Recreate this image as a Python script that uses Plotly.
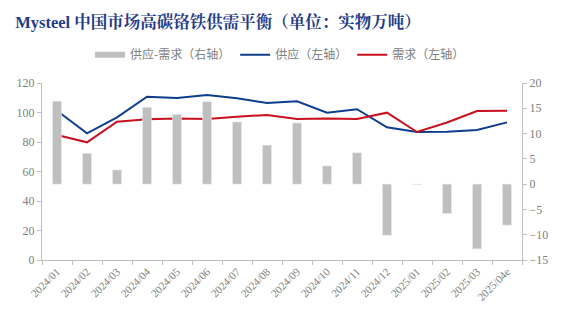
import plotly.graph_objects as go

categories = ["2024/01", "2024/02", "2024/03", "2024/04", "2024/05", "2024/06", "2024/07", "2024/08",
              "2024/09", "2024/10", "2024/11", "2024/12", "2025/01", "2025/02", "2025/03", "2025/04e"]
supply = [101.2, 85.9, 96.7, 110.7, 109.8, 111.9, 109.6, 106.4, 107.6, 99.9, 102.2, 90.0, 86.8, 87.0, 88.1, 93.3]
demand = [84.7, 79.8, 93.8, 95.4, 96.0, 95.6, 97.2, 98.3, 95.6, 96.0, 95.6, 99.9, 86.8, 93.2, 101.0, 101.2]
balance = [16.4, 6.1, 2.8, 15.2, 13.8, 16.3, 12.3, 7.7, 12.1, 3.6, 6.2, -10.1, -0.1, -5.8, -12.8, -8.1]

left_ticks = [0, 20, 40, 60, 80, 100, 120]
right_ticks = [-15, -10, -5, 0, 5, 10, 15, 20]

gray = "#808080"
bar_gray = "#BFBFBF"
font_serif = "Liberation Serif, Noto Serif CJK SC, Noto Sans CJK SC, serif"

fig = go.Figure()
fig.add_trace(go.Bar(x=categories, y=balance, name="供应-需求（右轴）", marker_color=bar_gray,
                     yaxis="y2", showlegend=False))
# legend-only entry drawn as a wide grey block like the original
fig.add_trace(go.Scatter(x=[None], y=[None], name="供应-需求（右轴）", mode="lines",
                         line=dict(color=bar_gray, width=6), yaxis="y2"))
fig.add_trace(go.Scatter(x=categories, y=supply, name="供应（左轴）", mode="lines",
                         line=dict(color="#0E3D8E", width=2)))
fig.add_trace(go.Scatter(x=categories, y=demand, name="需求（左轴）", mode="lines",
                         line=dict(color="#C8101E", width=2)))

fig.update_layout(
    width=564, height=322,
    margin=dict(l=42, r=42, t=83, b=62),
    paper_bgcolor="white", plot_bgcolor="white",
    bargap=0.7,
    title=dict(text="<b>Mysteel 中国市场高碳铬铁供需平衡（单位：实物万吨）</b>",
               x=0.027, xanchor="left", y=0.93, yanchor="middle",
               font=dict(family=font_serif, size=16.5, color="#1F3C88")),
    legend=dict(orientation="h", x=0.1, y=1.16, xanchor="left", yanchor="middle",
                font=dict(family="Noto Sans CJK SC, sans-serif", size=12, color=gray),
                itemwidth=30, bgcolor="rgba(0,0,0,0)"),
    xaxis=dict(type="category", tickson="boundaries", ticks="outside", ticklen=4,
               tickcolor=bar_gray, showline=True, linecolor=bar_gray, linewidth=1,
               showgrid=False, tickangle=-45,
               tickfont=dict(family=font_serif, size=11, color=gray)),
    yaxis=dict(range=[0, 120], tickvals=left_ticks, ticks="outside", ticklen=4,
               tickcolor=bar_gray, showline=True, linecolor=bar_gray, linewidth=1,
               showgrid=False, zeroline=False,
               tickfont=dict(family=font_serif, size=12, color=gray)),
    yaxis2=dict(range=[-15, 20], tickvals=right_ticks, overlaying="y", side="right",
                ticks="outside", ticklen=4, tickcolor=bar_gray, showline=True,
                linecolor=bar_gray, linewidth=1, showgrid=False, zeroline=False,
                tickfont=dict(family=font_serif, size=12, color=gray)),
)

fig.write_html("out.html")
